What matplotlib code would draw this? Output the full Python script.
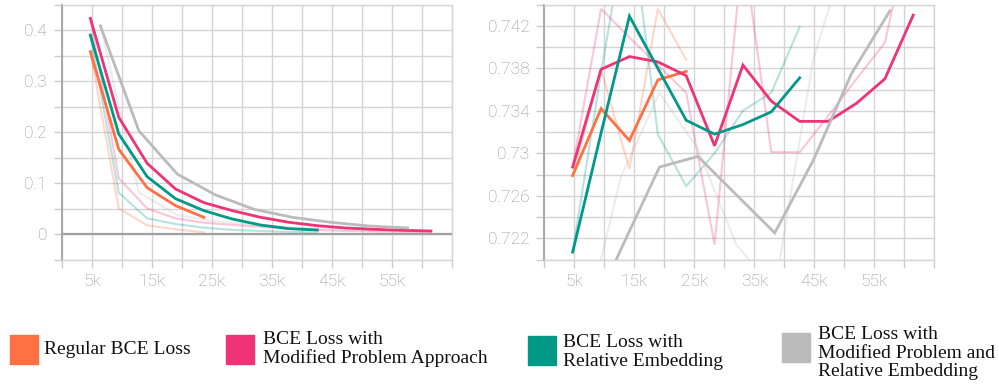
import numpy as np
import matplotlib
matplotlib.use("Agg")
import matplotlib.pyplot as plt
from matplotlib.patches import Rectangle

# training steps (runs log every ~4.73k steps, the last run every 6.4k)
steps = [4730, 9460, 14190, 18920, 23650, 28380, 33110, 37840, 42570, 47300, 52030, 56760, 61490]
steps_gray = [6400, 12800, 19200, 25600, 32000, 38400, 44800, 51200, 57600]

# left panel: loss (smoothed + raw)
loss_orange = [0.3575, 0.166, 0.0908, 0.0556, 0.0327]
loss_orange_raw = [0.3575, 0.0503, 0.017, 0.0092, 0.0033]
loss_pink = [0.4229, 0.2288, 0.1386, 0.0882, 0.0614, 0.0458, 0.0327, 0.0229, 0.0163, 0.0118, 0.0092, 0.0072, 0.0059]
loss_pink_raw = [0.4229, 0.109, 0.0503, 0.0307, 0.0222, 0.018, 0.014, 0.010, 0.008, 0.006, 0.005, 0.004, 0.004]
loss_teal = [0.390, 0.196, 0.1124, 0.0693, 0.0458, 0.0294, 0.0176, 0.0105, 0.0078]
loss_teal_raw = [0.390, 0.081, 0.0307, 0.0196, 0.0124, 0.008, 0.006, 0.004, 0.003]
loss_gray = [0.408, 0.2026, 0.1176, 0.0765, 0.0484, 0.0327, 0.0229, 0.0157, 0.0118]
loss_gray_raw = [0.408, 0.082, 0.037, 0.025, 0.018, 0.013, 0.010, 0.008, 0.007]

# right panel: accuracy (smoothed + raw)
acc_orange = [0.7279, 0.7342, 0.7312, 0.7369, 0.7377]
acc_orange_raw = [0.7279, 0.7379, 0.7285, 0.7436, 0.7388]
acc_pink = [0.7287, 0.7379, 0.7391, 0.7386, 0.7373, 0.7307, 0.7383, 0.7349, 0.7330, 0.7330, 0.7347, 0.7370, 0.7430]
acc_pink_raw = [0.7287, 0.7436, 0.7409, 0.7383, 0.7357, 0.7214, 0.7495, 0.7301, 0.7301, 0.7335, 0.7370, 0.7404, 0.7526]
acc_teal = [0.7207, 0.7319, 0.7429, 0.7380, 0.7331, 0.7318, 0.7327, 0.7339, 0.7371]
acc_teal_raw = [0.7207, 0.7376, 0.7531, 0.7318, 0.7269, 0.7300, 0.7340, 0.7357, 0.7419]
acc_gray = [0.713, 0.7210, 0.7287, 0.7297, 0.7261, 0.7225, 0.7293, 0.7375, 0.7434]
acc_gray_raw = [0.713, 0.7278, 0.7357, 0.7304, 0.7214, 0.7171, 0.7388, 0.7505, 0.7523]

labels = ["Regular BCE Loss",
          "BCE Loss with\nModified Problem Approach",
          "BCE Loss with\nRelative Embedding",
          "BCE Loss with\nModified Problem and\nRelative Embedding"]
colors = ["#ff7043", "#ee3377", "#009988", "#bbbbbb"]

W, H = 999, 386
fig = plt.figure(figsize=(W / 100, H / 100), dpi=100)
ax1 = fig.add_axes([62 / W, 1 - 259.5 / H, 390 / W, 255 / H])
ax2 = fig.add_axes([544.3 / W, 1 - 259.5 / H, 390 / W, 255 / H])

GRID = "#d4d4d4"


def style(ax, yticks, ylabels):
    xt = np.arange(0, 65001, 5000)
    ax.set_xlim(0, 65000)
    ax.set_xticks(xt)
    ax.set_xticklabels([f"{t // 1000}k" if t % 10000 == 5000 and t < 60000 else "" for t in xt])
    ax.set_yticks(yticks)
    ax.set_yticklabels(ylabels)
    ax.set_ylim(yticks[0], yticks[-1])
    ax.grid(True, color=GRID, lw=1.0)
    ax.set_axisbelow(True)
    ax.tick_params(length=5.8, width=1.0, color="#cccccc", labelcolor="#949494",
                   labelsize=12.5, pad=5)
    for s in ["top", "right", "bottom"]:
        ax.spines[s].set_color(GRID)
        ax.spines[s].set_linewidth(1.0)
    ax.spines["left"].set_color("#a8a8a8")
    ax.spines["left"].set_linewidth(1.4)
    for lab in ax.get_xticklabels() + ax.get_yticklabels():
        lab.set_fontfamily("Roboto")
        lab.set_fontweight("light")


def draw(ax, series):
    for x, smooth, raw, c in series:
        ax.plot(x, raw, color=c, lw=1.5, alpha=0.28, solid_joinstyle="miter")
    for x, smooth, raw, c in series:
        ax.plot(x, smooth, color=c, lw=2.0, solid_joinstyle="miter")


draw(ax1, [
    (steps[:5], loss_orange, loss_orange_raw, colors[0]),
    (steps, loss_pink, loss_pink_raw, colors[1]),
    (steps[:9], loss_teal, loss_teal_raw, colors[2]),
    (steps_gray, loss_gray, loss_gray_raw, colors[3]),
])
ax1.axhline(0, color="#a0a0a0", lw=1.6, zorder=1.5)
yt1 = np.round(np.arange(-0.05, 0.451, 0.05), 2)
style(ax1, yt1, [("0" if abs(v) < 1e-9 else f"{v:g}") if round(v * 100) % 10 == 0 else "" for v in yt1])

draw(ax2, [
    (steps[:5], acc_orange, acc_orange_raw, colors[0]),
    (steps, acc_pink, acc_pink_raw, colors[1]),
    (steps[:9], acc_teal, acc_teal_raw, colors[2]),
    (steps_gray, acc_gray, acc_gray_raw, colors[3]),
])
yt2 = np.round(np.arange(0.720, 0.7441, 0.002), 3)
style(ax2, yt2, [f"{v:g}" if round(v * 1000) % 4 == 2 else "" for v in yt2])

# legend built by hand below the panels
legend_pos = [(10, 335, 44, 349), (226, 335, 263, 349), (528, 336, 563, 352), (782, 333, 818, 353)]
for (px, py, tx, ty), c, lab in zip(legend_pos, colors, labels):
    fig.patches.append(Rectangle((px / W, 1 - (py + 29) / H), 28 / W, 29 / H,
                                 transform=fig.transFigure, color=c))
    fig.text(tx / W, 1 - ty / H, lab, family="Liberation Serif", fontsize=14,
             va="center", ha="left", linespacing=1.12, color="#111111")

fig.savefig("out.png", dpi=100)
